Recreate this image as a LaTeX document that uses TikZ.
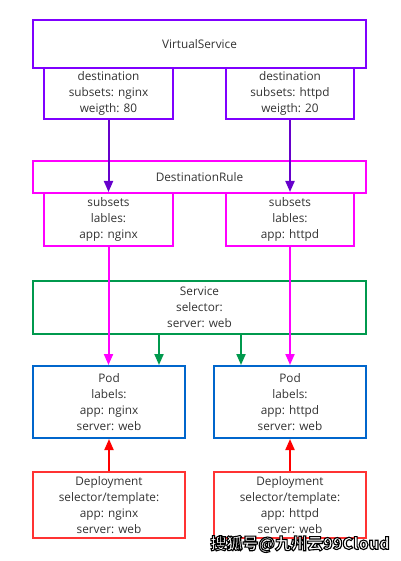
\documentclass[tikz,border=0pt]{standalone}
\usepackage{fontspec}
\setmainfont{Open Sans}
\newfontfamily\cjkwm{Noto Sans CJK SC}
\usetikzlibrary{arrows.meta,calc}
\definecolor{vsc}{RGB}{127,0,255}
\definecolor{vsa}{RGB}{102,0,204}
\definecolor{mag}{RGB}{255,0,255}
\definecolor{grn}{RGB}{0,153,77}
\definecolor{blu}{RGB}{0,102,204}
\definecolor{redb}{RGB}{255,51,51}
\definecolor{reda}{RGB}{255,0,0}
\definecolor{txt}{RGB}{51,51,51}
\newcommand\wmoutline{{\color{white}\special{pdf:literal direct 0 0 0 RG 1.1 w 2 Tr}\cjkwm\bfseries 搜狐号@九州云99Cloud\special{pdf:literal direct 0 Tr}}}
\begin{document}
\begin{tikzpicture}[x=1pt,y=-1pt,
  box/.style={draw, line width=2pt, fill=white, text=txt, align=center,
    inner sep=0pt, font=\fontsize{11.8}{16}\selectfont},
  arr/.style={line width=2pt, -{Triangle[length=11pt,width=9pt]}}]
\useasboundingbox (0,0) rectangle (400,561);
\fill[white] (0,0) rectangle (400,561);
% VirtualService
\node[box, draw=vsc, minimum width=333pt, minimum height=48pt] (vs) at (199.5,44) {VirtualService};
\node[box, draw=vsc, minimum width=129pt, minimum height=51pt] (d1) at (108.5,93.5) {destination\\subsets: nginx\\weigth: 80};
\node[box, draw=vsc, minimum width=128pt, minimum height=51pt] (d2) at (290,93.5) {destination\\subsets: httpd\\weigth: 20};
% DestinationRule
\node[box, draw=mag, minimum width=333pt, minimum height=32pt] (dr) at (199.5,177) {DestinationRule};
\node[box, draw=mag, minimum width=129pt, minimum height=53pt] (s1) at (108.5,219.5) {subsets\\lables:\\app: nginx};
\node[box, draw=mag, minimum width=128pt, minimum height=53pt] (s2) at (290,219.5) {subsets\\lables:\\app: httpd};
% Service
\node[box, draw=grn, minimum width=333pt, minimum height=53pt] (svc) at (199.5,307.5) {Service\\selector:\\server: web};
% Pods
\node[box, draw=blu, minimum width=152pt, minimum height=72pt] (p1) at (109,402) {Pod\\labels:\\app: nginx\\server: web};
\node[box, draw=blu, minimum width=152pt, minimum height=72pt] (p2) at (290,402) {Pod\\labels:\\app: httpd\\server: web};
% Deployments
\node[box, draw=redb, minimum width=152pt, minimum height=66pt] (dp1) at (109,505) {Deployment\\selector/template:\\app: nginx\\server: web};
\node[box, draw=redb, minimum width=152pt, minimum height=66pt] (dp2) at (290,505) {Deployment\\selector/template:\\app: httpd\\server: web};
% VirtualService -> subsets
\draw[arr, vsa] (d1.south) -- (d1.south |- s1.north);
\draw[arr, vsa] (d2.south) -- (d2.south |- s2.north);
% subsets -> pods
\draw[arr, mag] (s1.south) -- (s1.south |- p1.north);
\draw[arr, mag] (s2.south) -- (s2.south |- p2.north);
% service -> pods
\coordinate (g1) at ([xshift=-27pt]p1.north east);
\coordinate (g2) at ([xshift=28pt]p2.north west);
\draw[arr, grn] (svc.south -| g1) -- (g1);
\draw[arr, grn] (svc.south -| g2) -- (g2);
% deployments -> pods
\draw[arr, reda] (dp1.north) -- (p1.south);
\draw[arr, reda] (dp2.north) -- (p2.south);
% watermark
\node[inner sep=0pt, font=\fontsize{16}{16}\selectfont] (wm) at (300,544) {\wmoutline};
\end{tikzpicture}
\end{document}
